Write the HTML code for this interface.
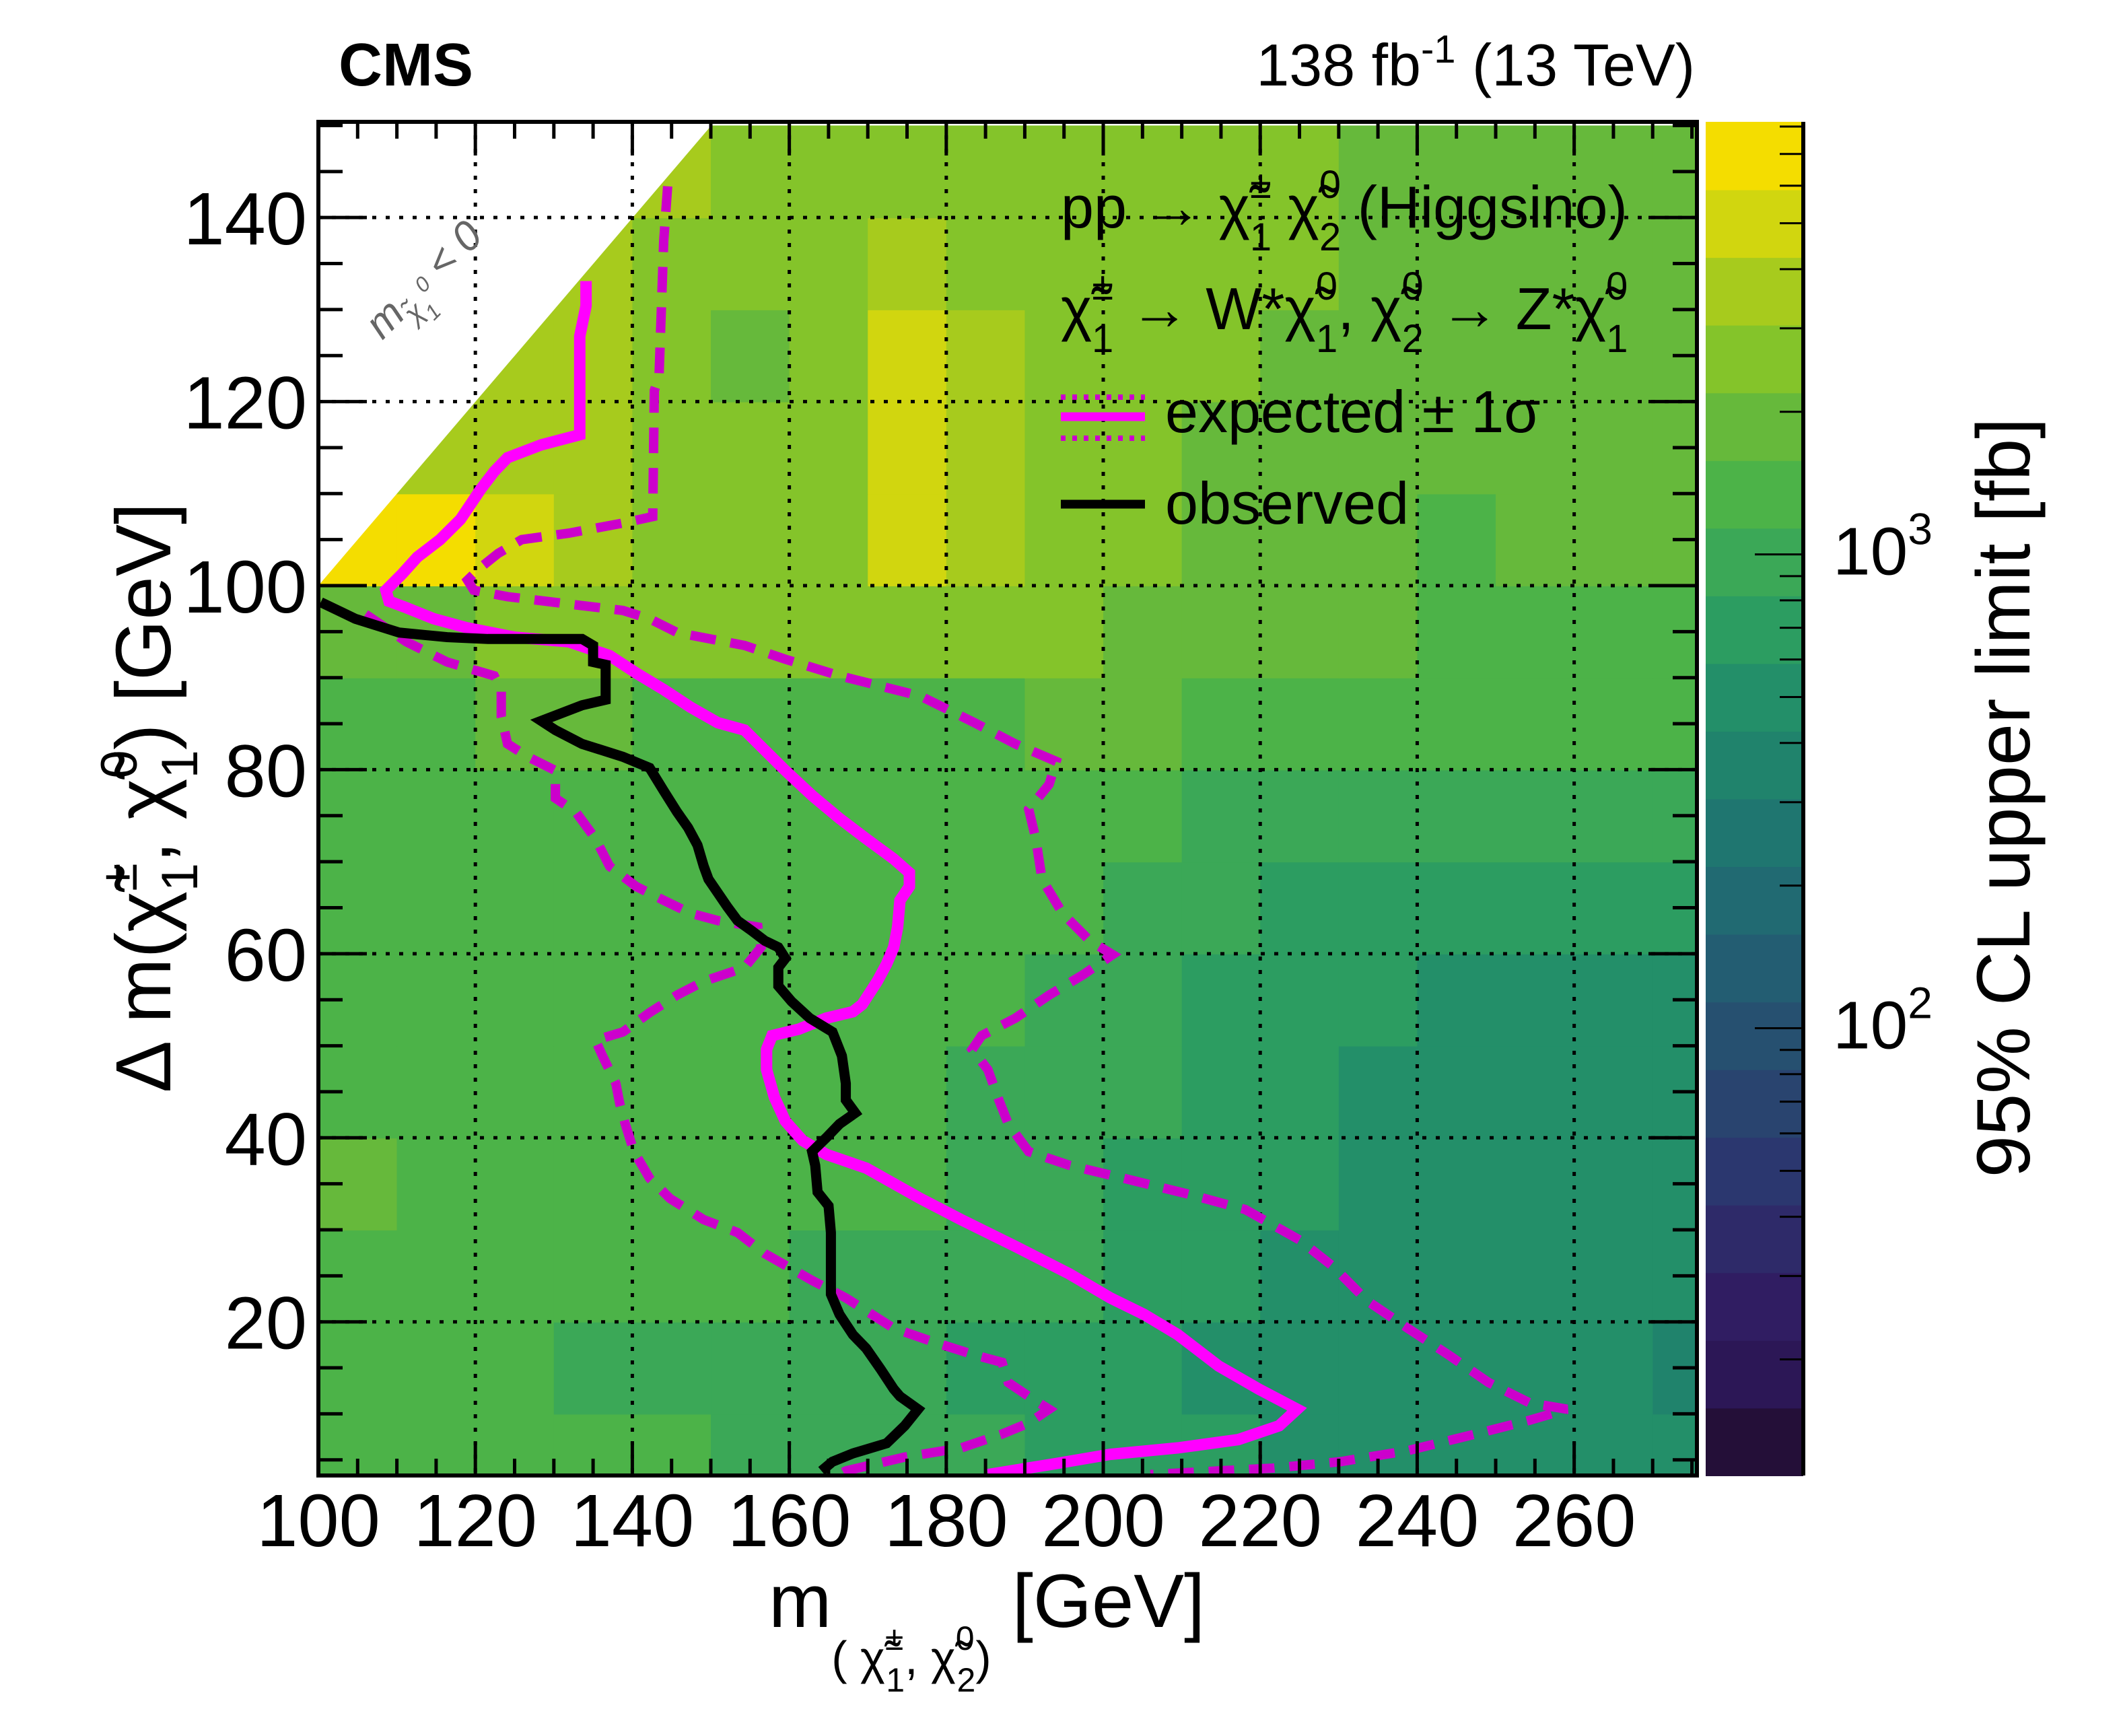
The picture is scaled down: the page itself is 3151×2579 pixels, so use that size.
<!DOCTYPE html>
<html><head><meta charset="utf-8"><style>
html,body{margin:0;padding:0;background:#fff}
svg{display:block;font-family:"Liberation Sans",sans-serif}
</style></head><body>
<svg id="chart" width="3151" height="2579" viewBox="0 0 3151 2579" xmlns="http://www.w3.org/2000/svg">
<defs><clipPath id="plotclip"><rect x="473" y="181" width="2048" height="2011"/></clipPath></defs>
<g id="heat" clip-path="url(#plotclip)"></g>
<g id="grid"></g>
<g id="curves" clip-path="url(#plotclip)"></g>
<g id="axes"></g>
<g id="cbar"></g>

<text x="503" y="127" font-size="90" font-weight="bold">CMS</text>
<text x="2518" y="127" font-size="88" text-anchor="end">138 fb<tspan dy="-34" font-size="58">-1</tspan><tspan dy="34"> (13 TeV)</tspan></text>

<text transform="translate(644,430) rotate(-45)" font-size="62" fill="#666" font-style="italic" text-anchor="middle">m<tspan dy="18" font-size="42">χ̃</tspan><tspan dy="16" font-size="32">1</tspan><tspan dy="-40" font-size="32">0</tspan><tspan dy="6" font-size="62"> &lt; 0</tspan></text>

<g font-size="88">
<text x="1576" y="338">pp → χ̃<tspan dy="-44" font-size="58">±</tspan><tspan dx="-32" dy="78" font-size="58">1</tspan><tspan dy="-34"> χ̃</tspan><tspan dy="-44" font-size="58">0</tspan><tspan dx="-32" dy="78" font-size="58">2</tspan><tspan dy="-34">  (Higgsino)</tspan></text>
<text x="1576" y="489">χ̃<tspan dy="-44" font-size="58">±</tspan><tspan dx="-32" dy="78" font-size="58">1</tspan><tspan dy="-34"> → W*χ̃</tspan><tspan dy="-44" font-size="58">0</tspan><tspan dx="-32" dy="78" font-size="58">1</tspan><tspan dy="-34">,  χ̃</tspan><tspan dy="-44" font-size="58">0</tspan><tspan dx="-32" dy="78" font-size="58">2</tspan><tspan dy="-34"> → Z*χ̃</tspan><tspan dy="-44" font-size="58">0</tspan><tspan dx="-32" dy="78" font-size="58">1</tspan></text>
<line x1="1576" y1="590" x2="1701" y2="590" stroke="#cc00cc" stroke-width="8" stroke-dasharray="7 10"/>
<line x1="1576" y1="619" x2="1701" y2="619" stroke="#ff00ff" stroke-width="13"/>
<line x1="1576" y1="651" x2="1701" y2="651" stroke="#cc00cc" stroke-width="8" stroke-dasharray="7 10"/>
<text x="1731" y="642">expected ± 1σ</text>
<line x1="1576" y1="749" x2="1701" y2="749" stroke="#000" stroke-width="13"/>
<text x="1731" y="778">observed</text>
</g>

<text x="1142" y="2417" font-size="112">m<tspan dy="70" font-size="70">( χ̃</tspan><tspan dy="-36" font-size="50">±</tspan><tspan dx="-26" dy="62" font-size="50">1</tspan><tspan dy="-26" font-size="70">, χ̃</tspan><tspan dy="-36" font-size="50">0</tspan><tspan dx="-26" dy="62" font-size="50">2</tspan><tspan dy="-26" font-size="70">)</tspan><tspan dy="-70"> [GeV]</tspan></text>
<text transform="translate(253,1185) rotate(-90)" font-size="116" text-anchor="middle">Δ m(χ̃<tspan dy="-50" font-size="76">±</tspan><tspan dx="-42" dy="90" font-size="76">1</tspan><tspan dy="-40">, χ̃</tspan><tspan dy="-50" font-size="76">0</tspan><tspan dx="-42" dy="90" font-size="76">1</tspan><tspan dy="-40">) [GeV]</tspan></text>
<text transform="translate(3015,1185) rotate(-90)" font-size="112" text-anchor="middle">95% CL upper limit [fb]</text>

<script>
// ---- data ----
const xTicks = [100,120,140,160,180,200,220,240,260];
const yTicks = [20,40,60,80,100,120,140];
const cbarLabels = [100,1000];
// heatmap: 95% CL upper limit [fb], cells 10 GeV wide; rows from Δm=0 (first) to Δm=140 (last)
const gridX = [100,110,120,130,140,150,160,170,180,190,200,210,220,230,240,250,260,270];
const gridY = [0,10,20,30,40,50,60,70,80,90,100,110,120,130,140];
const limitRow0  = [1340,1340,1340,1340,1340,960,960,960,960,700,700,700,500,500,500,500,500,500];
const limitRow1  = [1340,1340,1340,960,960,960,960,960,700,700,700,500,500,500,500,500,500,360];
const limitRow2  = [1340,1340,1340,1340,1340,1340,960,960,960,960,700,700,500,500,500,500,500,500];
const limitRow3  = [1860,1340,1340,1340,1340,1340,1340,1340,960,960,700,700,700,500,500,500,500,500];
const limitRow4  = [1340,1340,1340,1340,1340,1340,1340,1340,960,960,960,700,700,500,500,500,500,500];
const limitRow5  = [1340,1340,1340,1340,1340,1340,1340,1340,1340,960,960,700,700,700,500,500,500,500];
const limitRow6  = [1340,1340,1340,1340,1340,1340,1340,1340,1340,1340,960,960,700,700,700,700,700,700];
const limitRow7  = [1340,1340,1340,1340,1340,1340,1340,1340,1340,1340,1340,960,960,960,960,960,960,960];
const limitRow8  = [1340,1340,1860,1860,1340,1340,1340,1340,1340,1860,1860,1340,1340,1340,1340,1340,1340,1340];
const limitRow9  = [1860,1860,2600,2600,2600,2600,2600,2600,2600,2600,1860,1860,1860,1860,1340,1340,1340,1340];
const limitRow10 = [6900,6900,5000,3600,2600,2600,2600,5000,3600,2600,2600,1860,1860,1860,1340,1860,1860,1860];
const limitRow11 = [3600,3600,3600,3600,2600,2600,2600,5000,3600,2600,2600,1860,1860,1860,1860,1860,1860,1860];
const limitRow12 = [3600,3600,3600,3600,2600,1860,2600,5000,3600,2600,2600,2600,1860,1860,1860,1860,1860,1860];
const limitRow13 = [3600,3600,3600,3600,2600,2600,2600,3600,2600,2600,2600,2600,2600,1860,1860,1860,1860,1860];
const limitRow14 = [3600,3600,3600,3600,3600,2600,2600,2600,2600,2600,2600,2600,2600,1860,1860,1860,1860,1860];
const limitRows = [limitRow0,limitRow1,limitRow2,limitRow3,limitRow4,limitRow5,limitRow6,limitRow7,limitRow8,limitRow9,limitRow10,limitRow11,limitRow12,limitRow13,limitRow14];

const obsX = [100.3,104.7,110.3,116.4,121.6,133.6,135.0,135.0,136.6,136.6,133.6,128.4,130.2,133.6,138.8,142.2,144.0,145.7,147.1,148.3,149.1,149.7,150.9,152.1,153.4,155.2,156.9,158.6,159.5,158.6,158.6,160.3,162.6,165.5,166.7,167.2,167.2,168.4,166.4,164.7,162.9,163.3,163.6,165.0,165.3,165.3,165.3,166.4,168.1,169.8,171.6,173.3,174.1,176.4,174.7,172.4,168.1,165.5,164.1];
const obsY = [98.2,96.4,94.9,94.4,94.2,94.2,93.5,91.7,91.4,87.6,87.0,85.3,84.3,82.8,81.4,80.2,77.7,75.4,73.7,71.8,69.5,68.1,66.6,65.1,63.6,62.5,61.4,60.7,59.5,58.5,56.5,54.8,53.0,51.5,48.9,45.9,44.1,42.7,41.5,40.0,38.5,37.0,34.1,32.6,29.7,26.7,23.0,20.8,18.6,17.1,14.9,12.7,11.9,10.5,8.7,6.8,5.7,4.8,3.8];
const expX = [134.1,134.1,133.3,133.3,128.4,124.1,122.4,120.7,118.1,115.5,112.6,110.7,108.6,109.0,111.2,114.7,119.0,125.0,131.9,137.1,140.5,144.0,147.4,150.9,154.3,156.9,159.5,162.9,166.4,169.8,173.3,175.3,175.3,174.1,173.8,173.3,172.4,171.2,169.3,168.1,164.7,161.2,157.8,157.1,157.1,158.1,159.5,161.7,164.7,169.8,176.7,181.9,188.8,195.7,200.9,205.2,209.5,214.7,219.8,224.7,222.4,217.2,209.5,200.9,194.0,185.3];
const expY = [133.1,130.4,127.1,116.4,115.3,113.9,112.4,110.5,107.2,105.0,103.1,101.3,99.5,98.3,97.6,96.4,95.4,94.4,93.9,92.4,90.5,88.7,86.8,85.1,84.3,82.1,79.9,77.2,74.7,72.5,70.3,68.8,67.3,65.8,62.9,60.7,58.9,57.0,54.5,53.7,53.0,51.8,51.1,49.6,47.4,44.4,41.8,39.7,38.2,36.7,33.4,31.1,28.2,25.2,22.6,20.8,18.6,15.2,12.7,10.5,8.7,7.2,6.3,5.6,4.6,3.4];
const expUpX = [144.5,144.0,143.4,142.8,142.6,138.8,131.9,125.9,122.9,120.7,119.0,119.8,124.1,131.9,138.8,142.2,145.7,154.3,159.5,166.4,176.7,183.6,188.8,194.0,193.1,190.5,191.4,192.2,194.8,198.3,201.2,197.4,193.1,188.8,184.5,183.3,185.3,186.7,187.9,190.5,195.7,202.6,211.2,218.1,225.0,229.3,233.6,238.8,244.0,249.1,254.3,259.1,254.3,247.4,238.8,230.2,221.6,214.7,206.0];
const expUpY = [143.4,137.5,122.7,121.2,107.5,106.8,105.7,105.0,103.5,102.0,100.6,99.5,98.8,98.0,97.3,96.4,94.9,93.5,92.0,90.2,88.0,85.1,82.8,80.9,78.4,75.7,72.5,68.1,64.4,61.4,59.9,57.7,55.5,53.0,51.1,49.6,47.4,44.1,41.5,38.5,37.0,35.6,33.8,32.2,28.9,26.0,22.3,19.3,16.4,13.4,11.2,10.5,9.3,7.8,6.0,4.8,4.1,3.8,3.4];
const expDnX = [106.0,111.2,116.4,122.4,123.3,123.3,124.1,126.7,130.2,130.2,132.8,135.3,137.1,140.5,144.0,147.4,150.9,156.0,156.4,154.3,149.1,145.7,142.2,138.8,135.3,136.2,137.9,138.4,139.1,140.2,142.2,144.8,149.1,153.4,156.9,162.9,167.2,173.3,178.4,183.6,187.1,187.9,190.5,193.1,190.5,187.1,181.9,174.7,170.7,167.2,165.5];
const expDnY = [96.9,93.9,91.7,90.2,88.7,85.8,82.8,81.4,79.9,76.9,75.4,72.5,69.5,67.3,65.8,64.4,63.6,62.9,60.7,58.5,57.0,55.5,53.6,51.5,50.6,48.9,45.9,43.7,41.5,38.5,35.6,33.4,31.1,29.7,27.4,24.5,22.6,19.3,17.8,16.4,15.6,13.4,11.9,10.5,9.0,7.8,6.3,5.3,4.5,3.8,3.0];

// ---- axes ----
const X0=473, X1=2521, Y0=2192, Y1=181, XMIN=100, XMAX=275.64, YMIN=3.3, YMAX=150.4;
const sx = v => X0 + (v-XMIN)*(X1-X0)/(XMAX-XMIN);
const sy = v => Y0 - (v-YMIN)*(Y0-Y1)/(YMAX-YMIN);
const CB0=2534, CB1=2679, LMIN=1.056, LMAX=3.913;
const cy = v => Y0 - (Math.log10(v)-LMIN)*(Y0-Y1)/(LMAX-LMIN);
const bandColors = ['#240f38','#2c1756','#301d62','#2e2a69','#2b376f','#29446f','#265070','#235d72','#216a72','#1f7670','#20836c','#238f69','#2c9d61','#3ba857','#4cb348','#66b93b','#84c42a','#a7cb1d','#d1d60f','#f4dd00'];
const colorOf = v => { let b=Math.floor((Math.log10(v)-LMIN)/((LMAX-LMIN)/20)); b=Math.max(0,Math.min(19,b)); return bandColors[b]; };

const NS='http://www.w3.org/2000/svg';
function mk(tag, parent, attrs){ const e=document.createElementNS(NS,tag); for(const k in attrs) e.setAttribute(k,attrs[k]); parent.appendChild(e); return e; }

// heatmap
const heat=document.getElementById('heat');
limitRows.forEach((row,r)=>{ row.forEach((v,c)=>{
  const x0=sx(gridX[c]), x1=sx(gridX[c]+10), y0=sy(gridY[r]+10), y1=sy(gridY[r]);
  const el=mk('rect',heat,{x:x0,y:y0,width:x1-x0+1,height:y1-y0+1,fill:colorOf(v)});
  
  
});});
const tri=mk('polygon',heat,{points:`${sx(100)},${sy(100)} ${sx(100)},${sy(YMAX)-5} ${sx(YMAX)+5},${sy(YMAX)-5}`,fill:'#fff'});



// grid
const grid=document.getElementById('grid');
xTicks.slice(1).forEach(t=>{ const l=mk('line',grid,{x1:sx(t),x2:sx(t),y1:Y1,y2:Y0,stroke:'#000','stroke-width':5,'stroke-dasharray':'6 14'});
    });
yTicks.forEach(t=>{ const l=mk('line',grid,{x1:X0,x2:X1,y1:sy(t),y2:sy(t),stroke:'#000','stroke-width':5,'stroke-dasharray':'6 14'});
    });

// curves
const curves=document.getElementById('curves');
function poly(xs,ys,stroke,w,dash,name){
  const pts=xs.map((x,i)=>sx(x)+','+sy(ys[i])).join(' ');
  const a={points:pts,fill:'none',stroke:stroke,'stroke-width':w,'stroke-linejoin':'miter'};
  if(dash) a['stroke-dasharray']=dash;
  const p=mk('polyline',curves,a);
  
  
}
poly(expUpX,expUpY,'#cc00cc',14,'38 22','expected-plus-1sigma');
poly(expDnX,expDnY,'#cc00cc',14,'38 22','expected-minus-1sigma');
poly(expX,expY,'#ff00ff',17,null,'expected-limit');
poly(obsX,obsY,'#000',15,null,'observed-limit');

// axes frame and ticks
const axes=document.getElementById('axes');
const fr=mk('rect',axes,{x:X0,y:Y1,width:X1-X0,height:Y0-Y1,fill:'none',stroke:'#000','stroke-width':6});
 
let tk='';
for(let v=100; v<=275; v+=5){ const L=(v%20===0)?50:25; tk+=`M${sx(v)},${Y0}v${-L}M${sx(v)},${Y1}v${L}`; }
for(let v=5; v<=150; v+=5){ const L=(v%20===0)?72:36; tk+=`M${X0},${sy(v)}h${L}M${X1},${sy(v)}h${-L}`; }
const tp=mk('path',axes,{d:tk,stroke:'#000','stroke-width':5,fill:'none'});
 
xTicks.forEach(t=>{ const e=mk('text',axes,{x:sx(t),y:2297,'font-size':110,'text-anchor':'middle'}); e.textContent=t;
    });
yTicks.forEach(t=>{ const e=mk('text',axes,{x:456,y:sy(t)+40,'font-size':110,'text-anchor':'end'}); e.textContent=t;
    });

// colorbar
const cb=document.getElementById('cbar');
bandColors.forEach((c,i)=>{ const h=(Y0-Y1)/20; const r=mk('rect',cb,{x:CB0,y:Y0-(i+1)*h,width:CB1-CB0,height:h+1,fill:c});
    });
let ct='';
[20,30,40,50,60,70,80,90,200,300,400,500,600,700,800,900,2000,3000,4000,5000,6000,7000,8000].forEach(v=>{ ct+=`M${CB1},${cy(v)}h-35`; });
cbarLabels.forEach(v=>{ ct+=`M${CB1},${cy(v)}h-72`; });
const cp=mk('path',cb,{d:ct,stroke:'#000','stroke-width':3,fill:'none'});
 
const cl=mk('line',cb,{x1:CB1,x2:CB1,y1:Y1,y2:Y0,stroke:'#000','stroke-width':6});
 
cbarLabels.forEach(v=>{
  const e=mk('text',cb,{x:2723,y:cy(v)+30,'font-size':100});
  
  
  const base=document.createElementNS(NS,'tspan'); base.textContent='10'; e.appendChild(base);
  const sup=document.createElementNS(NS,'tspan'); sup.setAttribute('dy','-45'); sup.setAttribute('font-size','66');
  sup.textContent=String(Math.round(Math.log10(v))); e.appendChild(sup);
});
</script>
</svg>
</body></html>
